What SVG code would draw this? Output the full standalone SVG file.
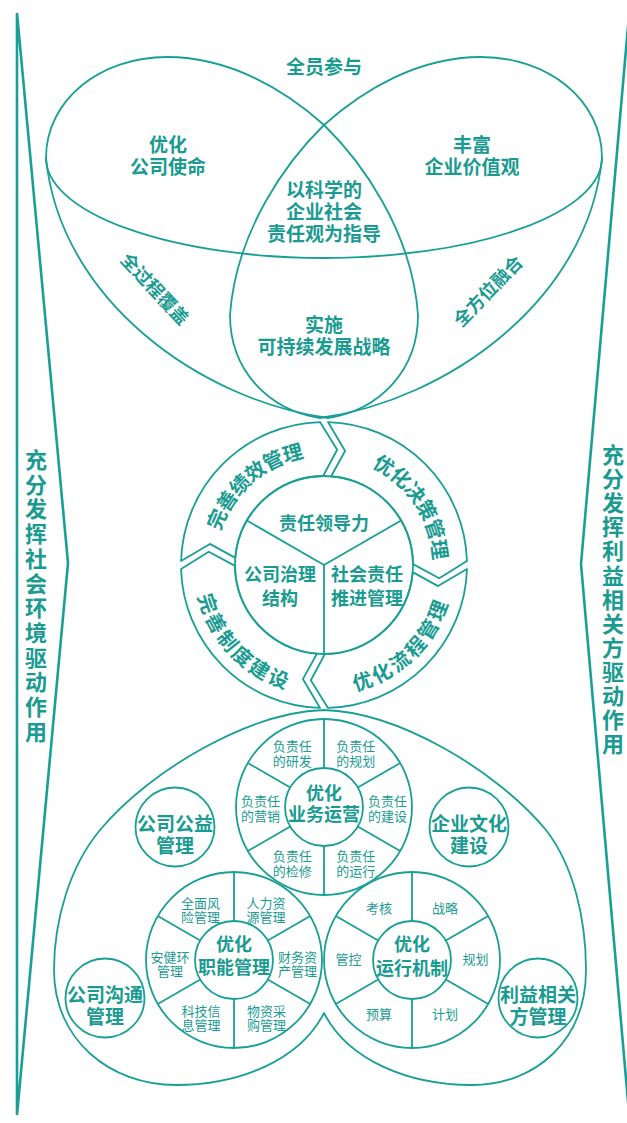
<svg xmlns="http://www.w3.org/2000/svg" xmlns:xlink="http://www.w3.org/1999/xlink" width="627" height="1123" viewBox="0 0 627 1123">
<style>
.ln{fill:none;stroke:#19a096;stroke-width:1.8;stroke-linejoin:round}
.bar{fill:none;stroke:#19a096;stroke-width:2.6;stroke-linejoin:miter}
.t{font-family:"Noto Sans CJK SC","Noto Sans CJK JP",sans-serif;fill:#1a9b91;text-anchor:middle;dominant-baseline:central}
.b{font-weight:700}
.s19{font-size:19px}
.s18{font-size:18px}
.s20{font-size:20px}
.s22{font-size:22px}
.s13{font-size:13px}
</style>
<defs>
<g id="wheel" class="ln">
<circle cx="0" cy="0" r="88"/>
<circle cx="0" cy="0" r="39"/>
<path d="M33.77,19.5L76.21,44M0,39V88M-33.77,19.5L-76.21,44M-33.77,-19.5L-76.21,-44M0,-39V-88M33.77,-19.5L76.21,-44"/>
</g>
<path id="pUL" d="M207.45,546.54A118,118 0 0 1 321.94,447.02"/>
<path id="pUR" d="M358.5,452.16A118,118 0 0 1 441.12,579.38"/>
<path id="pLR" d="M331.39,685.77A121,121 0 0 0 444.22,578.7"/>
<path id="pLL" d="M203.23,572.39A121,121 0 0 0 310.3,685.22"/>
</defs>

<g id="bar-left">
<path class="bar" d="M17,13L68,563L17,1115Z"/>
<text class="t b s22" x="36 36 36 36 36 36 36 36 36 36 36 36" y="458 482.7 507.4 532.1 556.8 581.5 606.2 630.9 655.6 680.3 705 729.7">充分发挥社会环境驱动作用</text>
</g>
<g id="bar-right">
<path class="bar" d="M629,15L581,564L629,1113Z"/>
<text class="t b s22" x="613 613 613 613 613 613 613 613 613 613 613 613 613" y="453 477.1 501.2 525.3 549.4 573.5 597.6 621.7 645.8 669.9 694 718.1 742.2">充分发挥利益相关方驱动作用</text>
</g>

<g id="connectors">
</g>

<g id="venn">
<g id="venn-left">
<path class="ln" d="M46,158C46,100 100,57 167,57C230,57 285,90 324,125C360,160 412,230 418,315C418,370 380,410 328,418C200,400 60,300 46,158Z"/>
<text class="t b s19"><tspan x="168" y="143">优化</tspan><tspan x="168" y="165">公司使命</tspan></text>
<text class="t b s18" transform="translate(156,288) rotate(47)">全过程覆盖</text>
</g>
<g id="venn-right">
<path class="ln" d="M602,158C602,100 548,57 481,57C418,57 363,90 324,125C288,160 236,230 230,315C230,370 268,410 320,418C448,400 588,300 602,158Z"/>
<text class="t b s19"><tspan x="472" y="143">丰富</tspan><tspan x="472" y="165">企业价值观</tspan></text>
<text class="t b s18" transform="translate(487,290) rotate(-46)">全方位融合</text>
</g>
<g id="venn-rim">
<path class="ln" d="M46,158A278,100 0 0 0 602,158"/>
<text class="t b s19" x="324" y="65">全员参与</text>
</g>
<g id="venn-center">
<text class="t b s19"><tspan x="324" y="188">以科学的</tspan><tspan x="324" y="210">企业社会</tspan><tspan x="324" y="232">责任观为指导</tspan></text>
</g>
<g id="venn-bottom">
<text class="t b s19"><tspan x="324" y="323">实施</tspan><tspan x="324" y="345">可持续发展战略</tspan></text>
</g>
</g>

<g id="ring">
<g id="ring-ul">
<path class="ln" d="M181.06,561.01A143,143 0 0 1 320.01,422.06L337.17,449.75L323.1,476A89,89 0 0 0 235.28,557.89L209.94,543.9Z"/>
<text class="t b s20" letter-spacing="1"><textPath href="#pUL" startOffset="50%">完善绩效管理</textPath></text>
</g>
<g id="ring-ur">
<path class="ln" d="M327.99,422.06A143,143 0 0 1 466.94,561.01L439.25,578.17L413,564.1A89,89 0 0 0 331.11,476.28L345.1,450.94Z"/>
<text class="t b s20" letter-spacing="1"><textPath href="#pUR" startOffset="50%">优化决策管理</textPath></text>
</g>
<g id="ring-lr">
<path class="ln" d="M466.94,568.99A143,143 0 0 1 327.99,707.94L310.83,680.25L324.9,654A89,89 0 0 0 412.72,572.11L438.06,586.1Z"/>
<text class="t b s20" letter-spacing="1"><textPath href="#pLR" startOffset="50%">优化流程管理</textPath></text>
</g>
<g id="ring-ll">
<path class="ln" d="M320.01,707.94A143,143 0 0 1 181.06,568.99L208.75,551.83L235,565.9A89,89 0 0 0 316.89,653.72L302.9,679.06Z"/>
<text class="t b s20" letter-spacing="1"><textPath href="#pLL" startOffset="50%">完善制度建设</textPath></text>
</g>
<g id="ring-core">
<circle class="ln" cx="324" cy="565" r="89"/>
<path class="ln" d="M324,565L246.92,520.5M324,565L401.08,520.5M324,565L324,654"/>
<text class="t b s18" x="324" y="522">责任领导力</text>
<text class="t b s18"><tspan x="280" y="573">公司治理</tspan><tspan x="280" y="597">结构</tspan></text>
<text class="t b s18"><tspan x="367" y="573">社会责任</tspan><tspan x="367" y="597">推进管理</tspan></text>
</g>
</g>

<g id="heart">
<path class="ln" d="M324,710C250,712 150,770 100,830C70,866 54,920 54,970C54,1040 110,1085 176,1085C240,1085 300,1060 324,1013C348,1060 408,1085 472,1085C536,1085 586,1040 586,970C586,920 574,866 546,830C496,770 398,712 324,710Z"/>
</g>

<g id="wheel-business">
<use href="#wheel" x="324" y="807"/>
<text class="t b s18"><tspan x="324" y="792">优化</tspan><tspan x="324" y="813">业务运营</tspan></text>
<text class="t s13"><tspan x="292.25" y="744.5">负责任</tspan><tspan x="292.25" y="759.5">的研发</tspan></text>
<text class="t s13"><tspan x="355.75" y="744.5">负责任</tspan><tspan x="355.75" y="759.5">的规划</tspan></text>
<text class="t s13"><tspan x="260.5" y="799.5">负责任</tspan><tspan x="260.5" y="814.5">的营销</tspan></text>
<text class="t s13"><tspan x="387.5" y="799.5">负责任</tspan><tspan x="387.5" y="814.5">的建设</tspan></text>
<text class="t s13"><tspan x="292.25" y="854.5">负责任</tspan><tspan x="292.25" y="869.5">的检修</tspan></text>
<text class="t s13"><tspan x="355.75" y="854.5">负责任</tspan><tspan x="355.75" y="869.5">的运行</tspan></text>
</g>

<g id="wheel-function">
<use href="#wheel" x="234" y="960"/>
<text class="t b s18"><tspan x="234" y="943">优化</tspan><tspan x="234" y="966">职能管理</tspan></text>
<text class="t s13"><tspan x="200.5" y="901.5">全面风</tspan><tspan x="200.5" y="915.5">险管理</tspan></text>
<text class="t s13"><tspan x="266" y="901.5">人力资</tspan><tspan x="266" y="915.5">源管理</tspan></text>
<text class="t s13"><tspan x="170" y="956">安健环</tspan><tspan x="170" y="970">管理</tspan></text>
<text class="t s13"><tspan x="297.5" y="956">财务资</tspan><tspan x="297.5" y="970">产管理</tspan></text>
<text class="t s13"><tspan x="201" y="1010">科技信</tspan><tspan x="201" y="1024">息管理</tspan></text>
<text class="t s13"><tspan x="266.5" y="1010">物资采</tspan><tspan x="266.5" y="1024">购管理</tspan></text>
</g>

<g id="wheel-operation">
<use href="#wheel" x="412" y="960"/>
<text class="t b s18"><tspan x="412" y="943">优化</tspan><tspan x="412" y="967">运行机制</tspan></text>
<text class="t s13" x="379" y="907">考核</text>
<text class="t s13" x="445" y="907">战略</text>
<text class="t s13" x="348.5" y="958">管控</text>
<text class="t s13" x="475.5" y="958">规划</text>
<text class="t s13" x="379" y="1013">预算</text>
<text class="t s13" x="445" y="1013">计划</text>
</g>

<g id="node-welfare">
<circle class="ln" cx="175" cy="827" r="39.5"/>
<text class="t b s19"><tspan x="175" y="822">公司公益</tspan><tspan x="175" y="844">管理</tspan></text>
</g>
<g id="node-culture">
<circle class="ln" cx="469" cy="827" r="39.5"/>
<text class="t b s19"><tspan x="469" y="822">企业文化</tspan><tspan x="469" y="844">建设</tspan></text>
</g>
<g id="node-communication">
<circle class="ln" cx="105" cy="998" r="39.5"/>
<text class="t b s19"><tspan x="105" y="993">公司沟通</tspan><tspan x="105" y="1015">管理</tspan></text>
</g>
<g id="node-stakeholder">
<circle class="ln" cx="538" cy="998" r="39.5"/>
<text class="t b s19"><tspan x="538" y="993">利益相关</tspan><tspan x="538" y="1015">方管理</tspan></text>
</g>
</svg>
